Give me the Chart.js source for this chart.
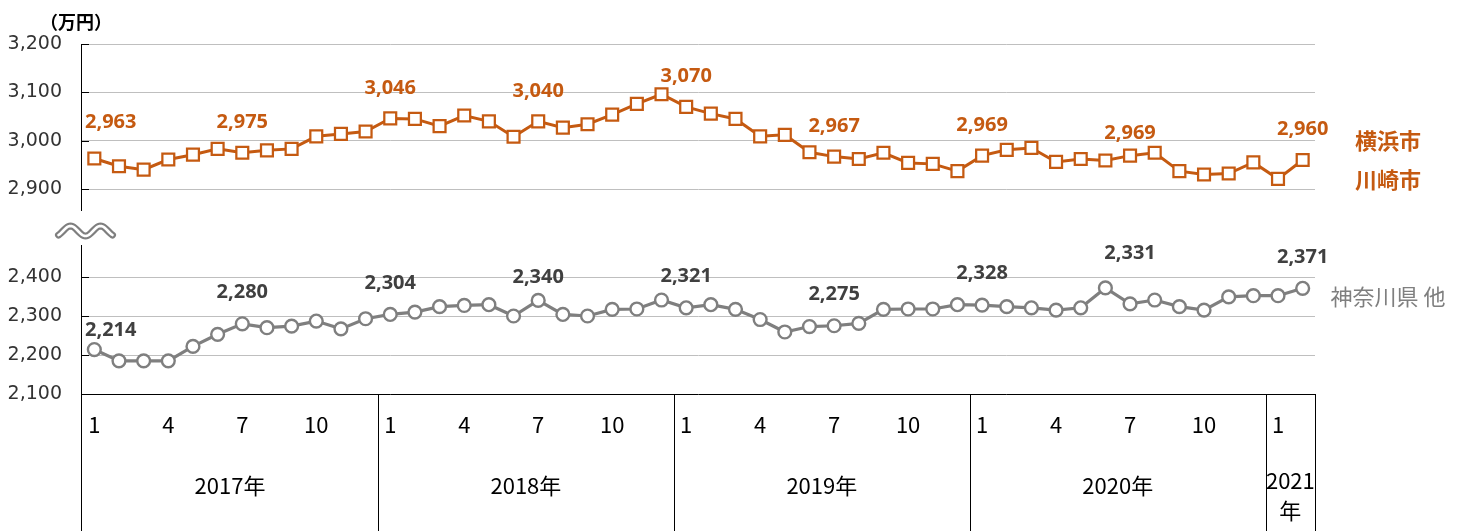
<!DOCTYPE html>
<html lang="ja">
<head>
<meta charset="utf-8">
<script src="https://cdn.jsdelivr.net/npm/chart.js@4.4.1/dist/chart.umd.min.js"></script>
<style>
  html, body { margin: 0; padding: 0; background: #fff; }
  #wrap { position: relative; width: 1464px; height: 531px; }
  #wrap canvas { position: absolute; left: 0; top: 0; }
</style>
</head>
<body>
<div id="wrap">
  <canvas id="chart-top" width="1464" height="531"></canvas>
  <canvas id="chart-bottom" width="1464" height="531"></canvas>
</div>
<script>
/* ---- data ---- */
const YEARS = [2017, 2018, 2019, 2020, 2021];
const YEAR_LABELS = ["2017年", "2018年", "2019年", "2020年", "2021年"];
const MONTHS = [1,2,3,4,5,6,7,8,9,10,11,12, 1,2,3,4,5,6,7,8,9,10,11,12,
                1,2,3,4,5,6,7,8,9,10,11,12, 1,2,3,4,5,6,7,8,9,10,11,12, 1,2];
const MONTH_TICKS = [1, 4, 7, 10];

// 横浜市・川崎市 (万円)
const YOKOHAMA_KAWASAKI = [2963,2947,2940,2961,2971,2983,2975,2980,2983,3009,3014,3019,
                           3046,3045,3030,3052,3040,3008,3040,3027,3034,3054,3076,3096,
                           3070,3056,3045,3009,3012,2976,2967,2962,2975,2954,2952,2937,
                           2969,2981,2985,2956,2962,2959,2969,2975,2937,2930,2932,2955,
                           2921,2960];
// 神奈川県 他 (万円)
const KANAGAWA_OTHER = [2214,2185,2185,2185,2222,2253,2280,2270,2274,2287,2267,2293,
                        2304,2310,2324,2327,2329,2300,2340,2304,2300,2317,2318,2341,
                        2321,2329,2317,2291,2259,2273,2275,2281,2317,2318,2318,2329,
                        2328,2324,2321,2315,2321,2372,2331,2341,2324,2315,2349,2352,
                        2352,2371];
const LABELED = [0, 6, 12, 18, 24, 30, 36, 42, 49];
const TOP_TICKS = [2900, 3000, 3100, 3200];
const BOTTOM_TICKS = [2100, 2200, 2300, 2400];

/* ---- style ---- */
const ORANGE = "#C55A11";
const GRAY = "#7F7F7F";
const LABEL_GRAY = "#404040";
const GRID = "#BFBFBF";
const CJK = '"Noto Sans CJK JP", "Noto Sans", sans-serif';
// how far (px) each value label sits above its point; a few were moved by hand in the original
const TOP_LIFT = { def: 30.5, 0: 36, 42: 22.5 };
const BOTTOM_LIFT = { def: 31.5, 0: 19, 18: 23, 42: 51 };

const CATEGORIES = [];
(function () {
  let y = 0;
  MONTHS.forEach(function (m, i) { if (m === 1 && i > 0) y++; CATEGORIES.push(YEARS[y] + "/" + m); });
})();

function fmt(v) { return Number(v).toLocaleString("en-US"); }

function yAxis(min, max, ticks, hideValue) {
  return {
    min: min, max: max,
    afterBuildTicks: function (s) { s.ticks = ticks.map(function (v) { return { value: v }; }); },
    afterFit: function (s) { s.width = 82; },
    ticks: { padding: 20, color: "#333", font: { family: "DejaVu Sans", size: 19 }, callback: fmt },
    grid: { drawTicks: false, lineWidth: 1,
            color: function (c) { return c.tick && c.tick.value === hideValue ? "rgba(0,0,0,0)" : GRID; } },
    border: { display: false },
  };
}

function vline(ctx, x, y0, y1) { ctx.beginPath(); ctx.moveTo(x, y0); ctx.lineTo(x, y1); ctx.stroke(); }

function innerTicks(chart) {
  const ctx = chart.ctx, ys = chart.scales.y, a = chart.chartArea;
  ys.ticks.forEach(function (t) {
    const y = Math.round(ys.getPixelForValue(t.value)) + 0.5;
    ctx.beginPath(); ctx.moveTo(a.left, y); ctx.lineTo(a.left + 7, y); ctx.stroke();
  });
}

function valueLabels(chart, color, lift) {
  const ctx = chart.ctx, meta = chart.getDatasetMeta(0), data = chart.data.datasets[0].data, a = chart.chartArea;
  ctx.font = 'bold 20px "Noto Sans"';
  ctx.fillStyle = color; ctx.textAlign = "center"; ctx.textBaseline = "middle";
  LABELED.forEach(function (i) {
    const p = meta.data[i], txt = fmt(data[i]);
    const w = ctx.measureText(txt).width;
    const x = Math.max(p.x, a.left + w / 2 + 3);
    ctx.fillText(txt, x, p.y - (lift[i] !== undefined ? lift[i] : lift.def));
  });
}

function breakMark(ctx, cx, cy) {
  function wave() {
    ctx.beginPath();
    for (let dx = -27; dx <= 27; dx++) {
      const y = cy - 5 * Math.cos(2 * Math.PI * (dx + 15) / 30);
      if (dx === -27) ctx.moveTo(cx + dx, y); else ctx.lineTo(cx + dx, y);
    }
    ctx.stroke();
  }
  ctx.lineCap = "round";
  ctx.strokeStyle = GRAY; ctx.lineWidth = 7; wave();
  ctx.strokeStyle = "#fff"; ctx.lineWidth = 2.6; wave();
}

const topDecor = {
  id: "topDecor",
  afterDraw: function (chart) {
    const ctx = chart.ctx, a = chart.chartArea;
    ctx.save();
    ctx.strokeStyle = "#000"; ctx.lineWidth = 1;
    vline(ctx, 81.5, a.top, a.bottom + 22);
    innerTicks(chart);
    breakMark(ctx, 85.5, 231);
    ctx.fillStyle = "#000"; ctx.textAlign = "center"; ctx.textBaseline = "middle";
    ctx.font = "bold 18px " + CJK;
    ctx.fillText("（万円）", 76, 22);
    valueLabels(chart, ORANGE, TOP_LIFT);
    ctx.fillStyle = ORANGE; ctx.font = "bold 22px " + CJK; ctx.textAlign = "center";
    ctx.fillText("横浜市", 1388, 141);
    ctx.fillText("川崎市", 1388, 180);
    ctx.restore();
  }
};

const bottomDecor = {
  id: "bottomDecor",
  afterDraw: function (chart) {
    const ctx = chart.ctx, a = chart.chartArea, xs = chart.scales.x;
    ctx.save();
    ctx.strokeStyle = "#000"; ctx.lineWidth = 1;
    vline(ctx, 81.5, a.top - 32, chart.height);
    innerTicks(chart);
    ctx.beginPath(); ctx.moveTo(a.left, a.bottom + 0.5); ctx.lineTo(a.right, a.bottom + 0.5); ctx.stroke();

    // year groups below the month labels
    const groups = [];
    MONTHS.forEach(function (m, i) {
      if (m === 1 || i === 0) groups.push({ start: i, end: i }); else groups[groups.length - 1].end = i;
    });
    const step = xs.getPixelForValue(1) - xs.getPixelForValue(0);
    ctx.font = "22px " + CJK; ctx.fillStyle = "#000"; ctx.textAlign = "center"; ctx.textBaseline = "middle";
    groups.forEach(function (g, gi) {
      const x0 = xs.getPixelForValue(g.start) - step / 2;
      const x1 = g.end === MONTHS.length - 1 ? a.right : xs.getPixelForValue(g.end) + step / 2;
      vline(ctx, Math.round(x1) + 0.5, a.bottom, chart.height);
      const label = YEAR_LABELS[gi], cx = (x0 + x1) / 2;
      if (ctx.measureText(label).width > x1 - x0 - 4) {
        ctx.fillText(label.slice(0, 4), cx, 481);
        ctx.fillText(label.slice(4), cx, 511);
      } else {
        ctx.fillText(label, cx, 486);
      }
    });

    valueLabels(chart, LABEL_GRAY, BOTTOM_LIFT);
    ctx.fillStyle = GRAY; ctx.font = "22px " + CJK; ctx.textAlign = "center"; ctx.textBaseline = "middle";
    ctx.fillText("神奈川県 他", 1388, 297);
    ctx.restore();
  }
};

const common = {
  responsive: false, animation: false,
  plugins: { legend: { display: false }, tooltip: { enabled: false } },
};

new Chart(document.getElementById("chart-top"), {
  type: "line",
  data: { labels: CATEGORIES, datasets: [{
    data: YOKOHAMA_KAWASAKI, borderColor: ORANGE, borderWidth: 3, tension: 0, clip: false,
    pointStyle: "rect", pointRadius: 8.4, pointBorderWidth: 2.25,
    pointBackgroundColor: "#fff", pointBorderColor: ORANGE,
  }] },
  options: Object.assign({}, common, {
    layout: { padding: { left: 0, right: 149, top: 44, bottom: 342 } },
    scales: { x: { display: false, offset: true }, y: yAxis(2900, 3200, TOP_TICKS, null) },
  }),
  plugins: [topDecor],
});

new Chart(document.getElementById("chart-bottom"), {
  type: "line",
  data: { labels: CATEGORIES, datasets: [{
    data: KANAGAWA_OTHER, borderColor: GRAY, borderWidth: 3.2, tension: 0, clip: false,
    pointStyle: "circle", pointRadius: 6.4, pointBorderWidth: 2.4,
    pointBackgroundColor: "#fff", pointBorderColor: GRAY,
  }] },
  options: Object.assign({}, common, {
    layout: { padding: { left: 0, right: 149, top: 277, bottom: 0 } },
    scales: {
      x: {
        offset: true,
        afterFit: function (s) { s.height = 137; },
        grid: { display: false, drawTicks: false }, border: { display: false },
        ticks: { autoSkip: false, maxRotation: 0, padding: 17, color: "#000",
                 font: { family: "Noto Sans CJK JP", size: 22 },
                 callback: function (v, i) { return MONTH_TICKS.indexOf(MONTHS[i]) >= 0 ? String(MONTHS[i]) : ""; } },
      },
      y: yAxis(2100, 2400, BOTTOM_TICKS, 2100),
    },
  }),
  plugins: [bottomDecor],
});
</script>
</body>
</html>
